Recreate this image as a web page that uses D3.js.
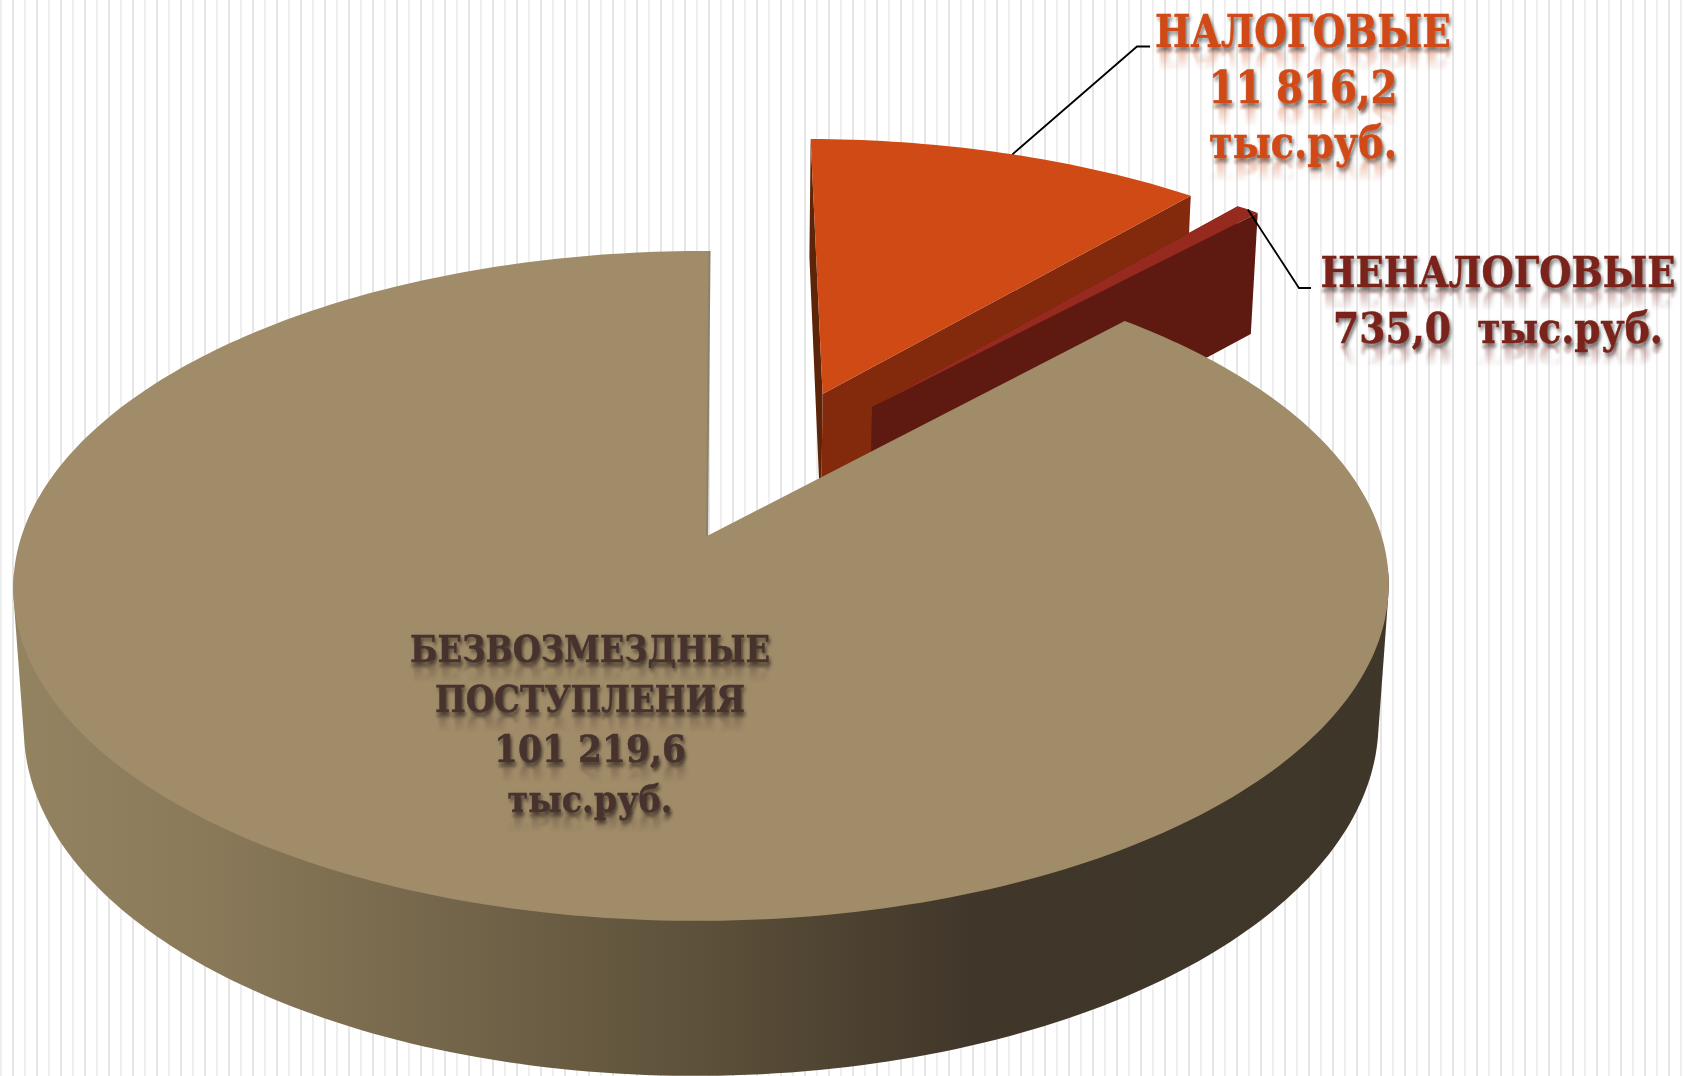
<!DOCTYPE html>
<html>
<head>
<meta charset="utf-8">
<script src="https://cdn.jsdelivr.net/npm/d3@7"></script>
<style>
  html, body { margin: 0; padding: 0; background: #fff; overflow: hidden; }
  text { font-family: "DejaVu Serif", serif; font-weight: bold; text-anchor: middle; }
</style>
</head>
<body>
<script>
const width = 1683;
const height = 1076;

// values, thousand rubles
const categories = ['НАЛОГОВЫЕ', 'НЕНАЛОГОВЫЕ', 'БЕЗВОЗМЕЗДНЫЕ ПОСТУПЛЕНИЯ'];
const values = [11816.2, 735.0, 101219.6];
const labelLines = [
  ['НАЛОГОВЫЕ', '11 816,2', 'тыс.руб.'],
  ['НЕНАЛОГОВЫЕ', '735,0\u00a0\u00a0тыс.руб.'],
  ['БЕЗВОЗМЕЗДНЫЕ', 'ПОСТУПЛЕНИЯ', '101 219,6', 'тыс.руб.']
];

// look of each slice: top face, cut face
const topColors = ['#d04a15', '#962a1f', '#a18c69'];
const wallColors = ['#832a0c', '#5e1a10', '#8d8168'];
const labelColors = ['#d04a15', '#7a231a', '#46322f'];

// where the exploded slices sit on the pie plane
const offsets = [[0.18, 0.464], [0.2566, 0.419], [0, 0]];
const radii = [1.018, 1.02, 1.0];

const labelPos = [
  { x: 1303, y: 47, step: 55.5, size: 44, widths: [296, 189, 188] },
  { x: 1498, y: 287, step: 56, size: 43, widths: [355, 330] },
  { x: 590, y: 662, step: 50, size: 38, widths: [360, 310, 192, 165] }
];

const svg = d3.select('body').append('svg')
  .attr('width', width)
  .attr('height', height)
  .style('display', 'block');

const defs = svg.append('defs');

// striped backdrop
svg.append('g').selectAll('rect')
  .data(d3.range(0, 141))
  .enter().append('rect')
    .attr('x', i => 1 + i * 12 - (i % 2 ? 0.9 : 0.6))
    .attr('y', 0)
    .attr('width', i => i % 2 ? 1.8 : 1.2)
    .attr('height', height)
    .attr('fill', '#e4e4e4');

// perspective of the pie plane: u to the right, v to the back, z downwards
const cx = 707, cy = 536;
const A = 680, B = 327.5, D = 140;
const kv = 0.149, ku = 0.008, kz = 0.015, skew = 2.9;

function project(u, v, z) {
  const w = 1 + kv * v + ku * u + kz * z;
  return [cx + (A * u + skew * v) / w, cy + (-B * v + D * z) / w];
}

// the drawn pie opens its first slices a little wider than the plain angles
const warp = a => a + 0.0576 * Math.sin(2 * a);

function rim(i, a, z) {
  const t = warp(a);
  return project(offsets[i][0] + radii[i] * Math.sin(t), offsets[i][1] + radii[i] * Math.cos(t), z);
}

function arcPoints(i, a0, a1, z) {
  const n = Math.max(2, Math.ceil(Math.abs(a1 - a0) * 60));
  return d3.range(n + 1).map(j => rim(i, a0 + (a1 - a0) * j / n, z));
}

const arcs = d3.pie().sort(null)(values);
const line = d3.line();
const apex = (i, z) => project(offsets[i][0], offsets[i][1], z);

function topFace(d) {
  return line([apex(d.index, 0), ...arcPoints(d.index, d.startAngle, d.endAngle, 0)]) + 'Z';
}

function cutFace(i, a) {
  return line([apex(i, 0), rim(i, a, 0), rim(i, a, 1), apex(i, 1)]) + 'Z';
}

// outer wall: only the front of the rim shows, its hull also gives the silhouette
function sideWall(d) {
  const a0 = Math.max(d.startAngle, Math.PI * 0.54);
  const a1 = Math.min(d.endAngle, Math.PI * 1.46);
  const hull = d3.polygonHull([...arcPoints(d.index, a0, a1, 0), ...arcPoints(d.index, a0, a1, 1)]);
  return line(hull) + 'Z';
}

const wallGrad = defs.append('linearGradient')
  .attr('id', 'wall')
  .attr('gradientUnits', 'userSpaceOnUse')
  .attr('x1', 0).attr('x2', width).attr('y1', 0).attr('y2', 0);
[[0.01, '#948361'], [0.12, '#8a7a5a'], [0.3, '#6f6147'], [0.42, '#5c5039'], [0.58, '#40362a'], [1, '#3f362a']]
  .forEach(s => wallGrad.append('stop').attr('offset', s[0]).attr('stop-color', s[1]));

const pie = svg.append('g');

// back to front: taxes, non-taxes, then the large slice
arcs.forEach(d => {
  const i = d.index;
  const g = pie.append('g').attr('class', 'slice');
  if (i < 2) {
    g.append('path').attr('d', cutFace(i, d.startAngle)).attr('fill', i === 0 ? '#5c2408' : wallColors[i]);
    g.append('path').attr('d', cutFace(i, d.endAngle)).attr('fill', wallColors[i]);
    g.append('path').attr('d', topFace(d)).attr('fill', topColors[i]);
  } else {
    g.append('path').attr('d', sideWall(d)).attr('fill', 'url(#wall)');
    g.append('path').attr('d', topFace(d)).attr('fill', topColors[i]);
    g.append('path')
      .attr('d', line([apex(i, 0), rim(i, d.endAngle, 0)]))
      .attr('stroke', wallColors[i]).attr('stroke-width', 2).attr('fill', 'none');
  }
});

// leader lines, anchored on the slice rims
const leaders = [
  { from: rim(0, (arcs[0].startAngle + arcs[0].endAngle) / 2, 0), elbow: [1137, 46.5], end: [1150, 46.5] },
  { from: rim(1, (arcs[1].startAngle + arcs[1].endAngle) / 2, 0), elbow: [1299, 288], end: [1311, 288] }
];
svg.append('g').selectAll('path')
  .data(leaders)
  .enter().append('path')
    .attr('d', d => line([d.from, d.elbow, d.end]))
    .attr('fill', 'none')
    .attr('stroke', '#000')
    .attr('stroke-width', 1.8);

// text shadow and reflection
const shadow = defs.append('filter').attr('id', 'shadow')
  .attr('x', '-5%').attr('y', '-20%').attr('width', '110%').attr('height', '140%');
shadow.append('feDropShadow')
  .attr('dx', 2).attr('dy', 3).attr('stdDeviation', 2)
  .attr('flood-color', '#000').attr('flood-opacity', 0.55);

const blur = defs.append('filter').attr('id', 'soft');
blur.append('feGaussianBlur').attr('stdDeviation', 0.8);

const labels = svg.append('g');
labelLines.forEach((lines, i) => {
  const p = labelPos[i];
  lines.forEach((t, j) => {
    const y = p.y + j * p.step;
    const id = `label-${i}-${j}`;
    const grad = defs.append('linearGradient').attr('id', id + '-g')
      .attr('gradientUnits', 'userSpaceOnUse')
      .attr('x1', 0).attr('x2', 0).attr('y1', y).attr('y2', y + p.size * 0.55);
    grad.append('stop').attr('offset', 0).attr('stop-color', '#fff').attr('stop-opacity', 0.4);
    grad.append('stop').attr('offset', 1).attr('stop-color', '#fff').attr('stop-opacity', 0);
    defs.append('mask').attr('id', id + '-m')
      .attr('maskUnits', 'userSpaceOnUse')
      .attr('x', 0).attr('y', 0).attr('width', width).attr('height', height)
      .append('rect').attr('x', 0).attr('y', y).attr('width', width).attr('height', p.size)
      .attr('fill', `url(#${id}-g)`);

    const holder = labels.append('g');
    // the reflection reuses the label itself, flipped round its baseline
    holder.append('g').attr('mask', `url(#${id}-m)`)
      .append('use')
        .attr('href', '#' + id)
        .attr('transform', `translate(0,${2 * y + 3}) scale(1,-1)`)
        .attr('filter', 'url(#soft)');
    const label = holder.append('text')
      .attr('id', id)
      .attr('font-size', p.size)
      .attr('fill', labelColors[i])
      .attr('stroke', labelColors[i])
      .attr('stroke-width', 0.5)
      .attr('filter', 'url(#shadow)')
      .text(t);
    // squeeze the wide font to the width of the original line
    const sx = p.widths[j] / label.node().getComputedTextLength();
    label.attr('transform', `translate(${p.x},${y}) scale(${sx},1)`);
  });
});
</script>
</body>
</html>
